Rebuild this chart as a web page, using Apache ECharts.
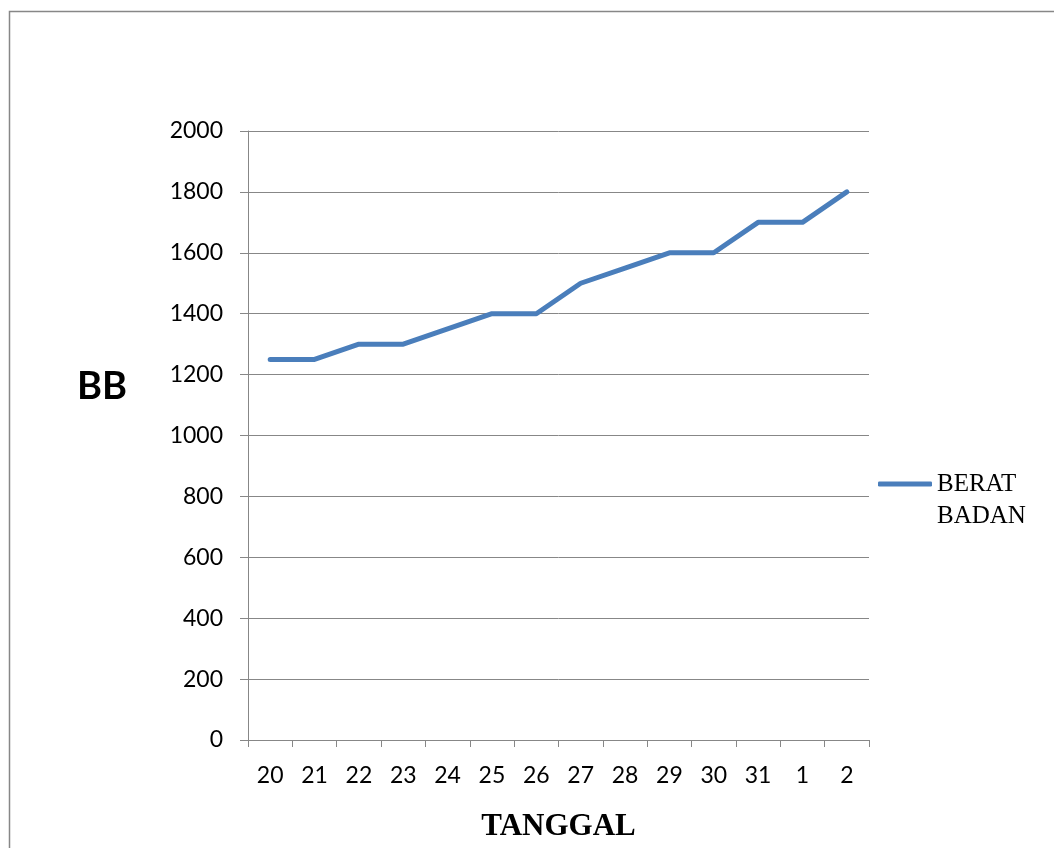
<!DOCTYPE html>
<html>
<head>
<meta charset="utf-8">
<script src="https://cdn.jsdelivr.net/npm/echarts@6/dist/echarts.min.js"></script>
<style>
html,body{margin:0;padding:0;background:#fff;}
#chart{width:1054px;height:848px;}
</style>
</head>
<body>
<div id="chart"></div>
<script>
const categories = ['20','21','22','23','24','25','26','27','28','29','30','31','1','2'];
const beratBadan = [1250,1250,1300,1300,1350,1400,1400,1500,1550,1600,1600,1700,1700,1800];
const seriesName = 'BERAT BADAN';
const xTitle = 'TANGGAL';
const yTitle = 'BB';

const chart = echarts.init(document.getElementById('chart'), null, {renderer:'canvas'});
const gray = '#878787';
chart.setOption({
  animation: false,
  backgroundColor: '#ffffff',
  graphic: [
    {type:'rect', shape:{x:9.5, y:11.5, width:1100, height:900}, style:{fill:null, stroke:gray, lineWidth:1.5}, silent:true},
    {type:'text', left:77, top:368, style:{text:yTitle, font:'bold 38px Lato, "Open Sans", sans-serif', fill:'#000'}}
  ],
  legend: {
    show: true,
    left: 878,
    top: 436,
    padding: 0,
    icon: 'roundRect',
    itemWidth: 54,
    itemHeight: 5,
    itemGap: 4,
    formatter: function(){ return '\nBERAT\nBADAN'; },
    textStyle: {fontFamily:'"Liberation Serif", "Times New Roman", serif', fontSize:25, lineHeight:32, color:'#000'}
  },
  grid: {left:248, right:185, top:131, bottom:108, containLabel:false, outerBoundsMode:'none'},
  xAxis: {
    type:'category',
    data: categories,
    boundaryGap: true,
    name: xTitle,
    nameLocation: 'middle',
    nameGap: 71,
    nameTextStyle: {fontFamily:'"Liberation Serif", "Times New Roman", serif', fontWeight:'bold', fontSize:31, color:'#000'},
    axisLine: {show:true, lineStyle:{color:gray, width:1}},
    axisTick: {show:true, length:7, alignWithLabel:false, lineStyle:{color:gray}},
    axisLabel: {margin:24, fontFamily:'Lato, "Open Sans", sans-serif', fontSize:23, color:'#000', interval:0},
    splitLine: {show:false}
  },
  yAxis: {
    type:'value',
    min:0, max:2000, interval:200,
    axisLine: {show:true, lineStyle:{color:gray, width:1}},
    axisTick: {show:true, length:8, inside:false, lineStyle:{color:gray}},
    axisLabel: {margin:25, fontFamily:'Lato, "Open Sans", sans-serif', fontSize:23, color:'#000', formatter: function(v){ return String(v); }},
    splitLine: {show:true, lineStyle:{color:gray, width:1}}
  },
  series: [{
    name: seriesName,
    type:'line',
    data: beratBadan,
    showSymbol:false,
    symbol:'none',
    lineStyle:{color:'#4A7EBB', width:5, cap:'round', join:'round'},
    itemStyle:{color:'#4A7EBB'}
  }]
});
</script>
</body>
</html>
